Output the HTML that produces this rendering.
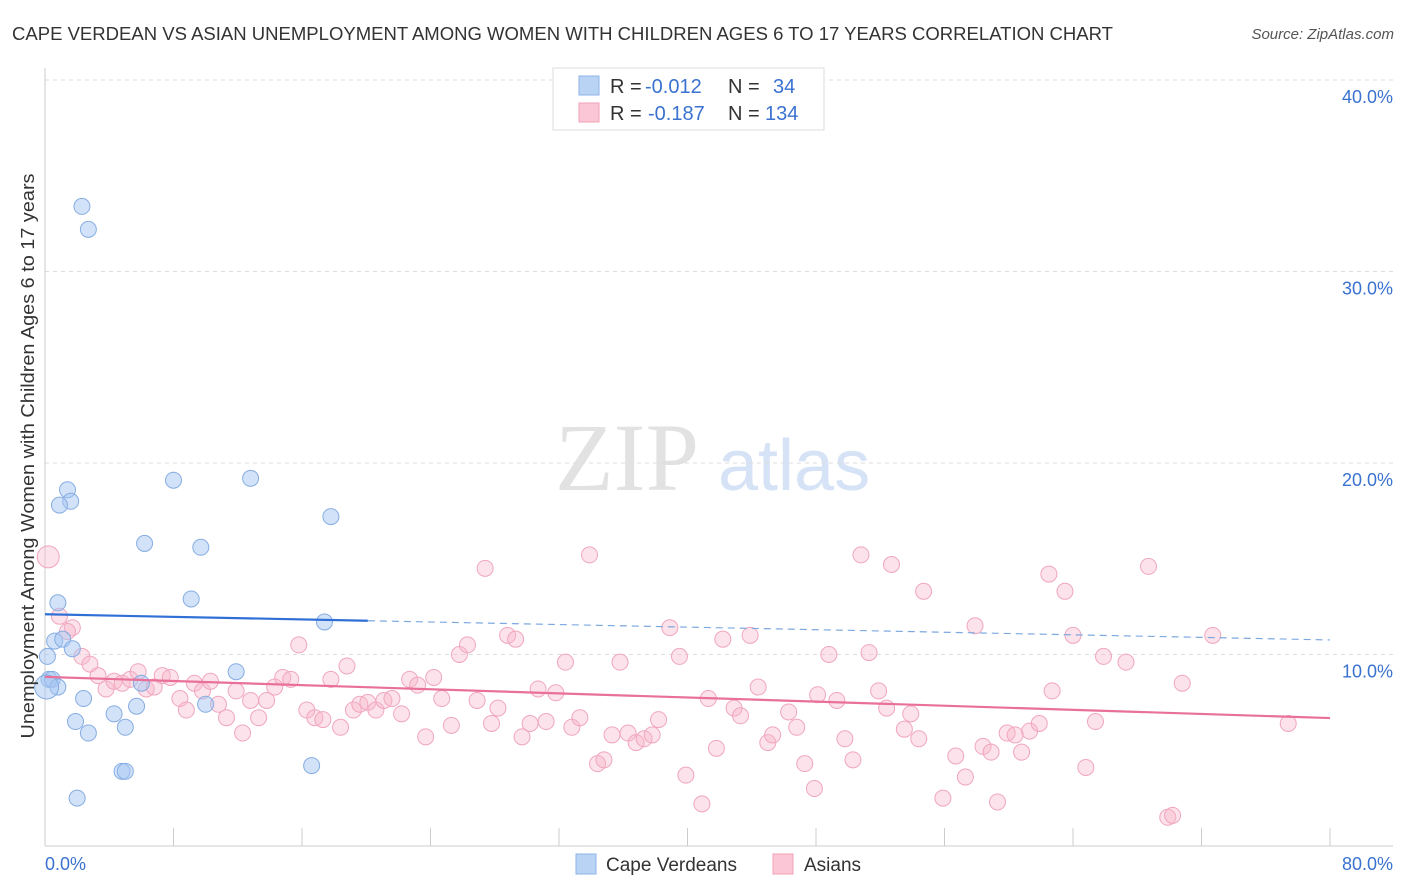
<!DOCTYPE html>
<html><head><meta charset="utf-8"><style>
body{margin:0;background:#fff;font-family:"Liberation Sans",sans-serif;}
svg{display:block}
</style></head><body>
<svg id="chart" width="1406" height="892" xmlns="http://www.w3.org/2000/svg">
<text x="12" y="40" font-size="18.6" fill="#333" textLength="1101" lengthAdjust="spacingAndGlyphs">CAPE VERDEAN VS ASIAN UNEMPLOYMENT AMONG WOMEN WITH CHILDREN AGES 6 TO 17 YEARS CORRELATION CHART</text>
<text x="1394" y="39" font-size="15" fill="#555" text-anchor="end" font-style="italic">Source: ZipAtlas.com</text>
<g>
<text x="555" y="490" font-size="96" font-family="Liberation Serif,serif" fill="#e2e2e2">ZIP</text>
<text x="718" y="490" font-size="72" fill="#d6e3f6">atlas</text>
</g>
<g id="grid"></g><g id="axes"></g><g id="pts"></g><g id="trends"></g>
<text transform="translate(34,456) rotate(-90)" font-size="18" fill="#333" text-anchor="middle" textLength="565" lengthAdjust="spacingAndGlyphs">Unemployment Among Women with Children Ages 6 to 17 years</text>
<g>
<rect x="553" y="68" width="271" height="62" fill="#fff" stroke="#ddd"/>
<rect x="579" y="76" width="20" height="19" fill="#b9d3f5" stroke="#8fb3e6"/>
<rect x="579" y="103" width="20" height="19" fill="#fbc6d5" stroke="#f0a2b9"/>
<text y="93" font-size="20" fill="#333"><tspan x="610">R =</tspan><tspan x="645" fill="#3a72d0">-0.012</tspan><tspan x="728">N =</tspan><tspan x="773" fill="#3a72d0">34</tspan></text>
<text y="120" font-size="20" fill="#333"><tspan x="610">R =</tspan><tspan x="648" fill="#3a72d0">-0.187</tspan><tspan x="728">N =</tspan><tspan x="765" fill="#3a72d0">134</tspan></text>
</g>
<g>
<rect x="576" y="854" width="20" height="20" fill="#b9d3f5" stroke="#8fb3e6"/>
<text x="606" y="871" font-size="19" fill="#333">Cape Verdeans</text>
<rect x="773" y="854" width="20" height="20" fill="#fbc6d5" stroke="#f0a2b9"/>
<text x="804" y="871" font-size="19" fill="#333">Asians</text>
</g>
</svg>
<script>
const yTicks=[10,20,30,40];
const yTickLabels=["10.0%","20.0%","30.0%","40.0%"];
const xTicks=[0,8,16,24,32,40,48,56,64,72,80];
const blueX=[2.3,2.7,1.4,1.6,0.9,8.0,12.8,17.8,6.2,9.7,9.1,0.8,0.6,1.1,1.7,0.25,0.45,0.8,0.1,2.4,11.9,6.0,5.7,4.3,10.0,1.9,2.7,5.0,4.8,5.0,2.0,16.6,17.4,0.15];
const blueY=[33.4,32.2,18.6,18.0,17.8,19.1,19.2,17.2,15.8,15.6,12.9,12.7,10.7,10.8,10.3,8.7,8.7,8.3,8.3,7.7,9.1,8.5,7.3,6.9,7.4,6.5,5.9,6.2,3.9,3.9,2.5,4.2,11.7,9.9];
const bigBlue=[18];
const pinkX=[0.2,0.9,1.7,1.4,2.3,2.8,3.3,3.8,4.3,4.8,5.3,5.8,6.3,6.8,7.3,7.8,8.4,8.8,9.3,9.8,10.3,10.8,11.3,11.9,12.3,12.8,13.3,13.8,14.3,14.8,15.3,15.8,16.3,16.8,17.3,17.8,18.4,18.8,19.2,19.6,20.1,20.6,21.1,21.6,22.2,22.7,23.2,23.7,24.2,24.7,25.3,25.8,26.3,26.9,27.4,27.8,28.2,28.8,29.3,29.7,30.2,30.7,31.2,31.8,32.4,32.8,33.3,33.9,34.4,34.8,35.3,35.8,36.3,36.8,37.3,37.8,38.2,38.9,39.5,39.9,40.9,41.3,41.8,42.2,42.9,43.3,43.9,44.4,45.0,45.3,46.3,46.8,47.3,47.9,48.1,48.8,49.3,49.8,50.3,50.8,51.3,51.9,52.4,52.7,53.5,53.9,54.4,54.7,55.9,56.7,57.3,57.9,58.4,58.9,59.3,59.9,60.4,60.8,61.3,61.9,62.5,62.7,63.5,64.0,64.8,65.4,65.9,67.3,68.7,69.9,70.2,70.8,72.7,77.4];
const pinkY=[15.1,12.0,11.4,11.2,9.9,9.5,8.9,8.2,8.6,8.5,8.7,9.1,8.2,8.3,8.9,8.8,7.7,7.1,8.5,8.1,8.6,7.4,6.7,8.1,5.9,7.6,6.7,7.6,8.3,8.8,8.7,10.5,7.1,6.7,6.6,8.7,6.2,9.4,7.1,7.4,7.5,7.1,7.6,7.7,6.9,8.7,8.4,5.7,8.8,7.7,6.3,10.0,10.5,7.6,14.5,6.4,7.2,11.0,10.8,5.7,6.4,8.2,6.5,8.0,9.6,6.2,6.7,15.2,4.3,4.5,5.8,9.6,5.9,5.4,5.6,5.8,6.6,11.4,9.9,3.7,2.2,7.7,5.1,10.8,7.2,6.8,11.0,8.3,5.4,5.8,7.0,6.2,4.3,3.0,7.9,10.0,7.6,5.6,4.5,15.2,10.1,8.1,7.2,14.7,6.1,6.9,5.6,13.3,2.5,4.7,3.6,11.5,5.2,4.9,2.3,5.9,5.8,4.9,6.0,6.4,14.2,8.1,13.3,11.0,4.1,6.5,9.9,9.6,14.6,1.5,1.6,8.5,11.0,6.4];
const bigPink=[0];
const blueTrend=[12.1,10.76], pinkTrend=[8.83,6.68];
const X0=45,X1=1330,Y0=846,Y40=80;
const sx=v=>X0+(X1-X0)*v/80, sy=v=>Y0-(Y0-Y40)*v/40;
const NS="http://www.w3.org/2000/svg";
function mk(tag,parent,attrs){const e=document.createElementNS(NS,tag);for(const k in attrs)e.setAttribute(k,attrs[k]);document.getElementById(parent).appendChild(e);return e;}
yTicks.forEach((t,i)=>{
 const g=mk('line','grid',{x1:X0,x2:1393,y1:sy(t),y2:sy(t),stroke:'#ddd','stroke-dasharray':'4,4'});
 
 
 const l=mk('text','axes',{x:1393,y:sy(t)+23,'font-size':18,fill:'#3a72d0','text-anchor':'end'});l.textContent=yTickLabels[i];
 
 
});
const ax=mk('line','axes',{x1:X0,x2:1393,y1:Y0,y2:Y0,stroke:'#ccc'});


const ay=mk('line','axes',{x1:X0,x2:X0,y1:68,y2:Y0,stroke:'#ccc'});


xTicks.forEach(t=>{const e=mk('line','axes',{x1:sx(t),x2:sx(t),y1:828,y2:Y0,stroke:'#ccc'});
 
 });
[[0,'0.0%','start',45],[80,'80.0%','end',1393]].forEach(a=>{const e=mk('text','axes',{x:a[3],y:870,'font-size':18,fill:'#3a72d0','text-anchor':a[2]});e.textContent=a[1];
 
 });
pinkX.forEach((v,i)=>{const c=mk('circle','pts',{cx:sx(v),cy:sy(pinkY[i]),r:bigPink.includes(i)?11:8,fill:'rgba(248,182,202,0.4)',stroke:'#f0a6bf','stroke-width':1});
 
 });
blueX.forEach((v,i)=>{const c=mk('circle','pts',{cx:sx(v),cy:sy(blueY[i]),r:bigBlue.includes(i)?12:8,fill:'rgba(165,198,242,0.5)',stroke:'#86ade2','stroke-width':1});
 
 });
const bAt=x=>blueTrend[0]+(blueTrend[1]-blueTrend[0])*x/80;
let t1=mk('line','trends',{x1:sx(0),y1:sy(bAt(0)),x2:sx(20.1),y2:sy(bAt(20.1)),stroke:'#2f6fd6','stroke-width':2.2});


let t2=mk('line','trends',{x1:sx(20.1),y1:sy(bAt(20.1)),x2:sx(80),y2:sy(bAt(80)),stroke:'#7ea8e0','stroke-width':1.2,'stroke-dasharray':'7,5'});


let t3=mk('line','trends',{x1:sx(0),y1:sy(pinkTrend[0]),x2:sx(80),y2:sy(pinkTrend[1]),stroke:'#e8709a','stroke-width':2.2});


</script>
</body></html>
